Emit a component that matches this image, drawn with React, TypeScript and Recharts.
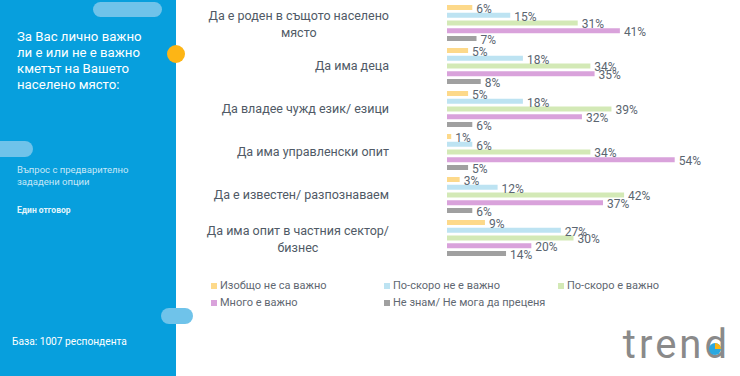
import React from 'react'
import { Bar, BarChart, LabelList, XAxis, YAxis } from 'recharts'

// survey: how important is each trait of the mayor (% of respondents)
const categories = [
  'Да е роден в същото населено\nмясто',
  'Да има деца',
  'Да владее чужд език/ езици',
  'Да има управленски опит',
  'Да е известен/ разпознаваем',
  'Да има опит в частния сектор/\nбизнес',
]
const seriesNames = [
  'Изобщо не са важно',
  'По-скоро не е важно',
  'По-скоро е важно',
  'Много е важно',
  'Не знам/ Не мога да преценя',
]
const notImportant = [6, 5, 5, 1, 3, 9]
const ratherNot = [15, 18, 18, 6, 12, 27]
const ratherYes = [31, 34, 39, 34, 42, 30]
const veryImportant = [41, 35, 32, 54, 37, 20]
const dontKnow = [7, 8, 6, 5, 6, 14]

const COLORS = ['#fdd98a', '#bde3f2', '#d3e9b6', '#d9a2db', '#a0a0a0']
const KEYS = ['s0', 's1', 's2', 's3', 's4']
const BLUE = '#079fdd'
const PILL = '#6fc3ea'
const TEXT = '#505a66'
const FONT = 'Roboto, "Noto Sans", sans-serif'
const TICK_SIZE = 12.5

const data = categories.map((name, i) => ({
  name,
  s0: notImportant[i],
  s1: ratherNot[i],
  s2: ratherYes[i],
  s3: veryImportant[i],
  s4: dontKnow[i],
}))

let ctx: CanvasRenderingContext2D | null = null
function measure(text: string, size: number) {
  if (!ctx) ctx = document.createElement('canvas').getContext('2d')
  if (!ctx) return text.length * size * 0.5
  ctx.font = `${size}px Roboto`
  return ctx.measureText(text).width
}

function CategoryTick(props: any) {
  const { x, y, payload } = props
  const lines: string[] = String(payload.value).split('\n')
  const right = x - 50
  if (lines.length === 1) {
    return (
      <text x={right} y={y} textAnchor="end" dominantBaseline="central" fontSize={TICK_SIZE} fill={TEXT} fontFamily={FONT}>
        {lines[0]}
      </text>
    )
  }
  const w = Math.max(...lines.map((l) => measure(l, TICK_SIZE)))
  const cx = right - w / 2
  return (
    <g>
      {lines.map((l, i) => (
        <text
          key={i}
          x={cx}
          y={y - 7 + i * 17}
          textAnchor="middle"
          dominantBaseline="central"
          fontSize={TICK_SIZE}
          fill={TEXT}
          fontFamily={FONT}
        >
          {l}
        </text>
      ))}
    </g>
  )
}

const pill = (left: number, top: number, w: number, h: number): React.CSSProperties => ({
  position: 'absolute',
  left,
  top,
  width: w,
  height: h,
  borderRadius: h / 2,
  background: PILL,
})

export default function App() {
  return (
    <div style={{ position: 'absolute', left: 0, top: 0, width: 740, height: 376, background: '#fff', overflow: 'hidden', fontFamily: FONT }}>
      {/* left blue panel */}
      <div style={{ position: 'absolute', left: 0, top: 0, width: 176, height: 376, background: BLUE }} />
      <div style={pill(93, 2, 69, 15)} />
      <div style={pill(-16, 141, 49, 16)} />
      <div style={pill(161, 308, 32, 16)} />
      <div style={{ position: 'absolute', left: 167, top: 45, width: 18, height: 18, borderRadius: 9, background: '#fdb515' }} />
      <div style={{ position: 'absolute', left: 17, top: 29, color: '#fff', fontSize: 13.2, lineHeight: '16px' }}>
        За Вас лично важно
        <br />
        ли е или не е важно
        <br />
        кметът на Вашето
        <br />
        населено място:
      </div>
      <div style={{ position: 'absolute', left: 17, top: 164, color: 'rgba(255,255,255,0.78)', fontSize: 9.5, lineHeight: '12px' }}>
        Въпрос с предварително
        <br />
        зададени опции
      </div>
      <div style={{ position: 'absolute', left: 17, top: 205, color: 'rgba(255,255,255,0.9)', fontSize: 8.5, fontWeight: 700 }}>
        Един отговор
      </div>
      <div style={{ position: 'absolute', left: 12, top: 336, color: '#fff', fontSize: 10.2 }}>База: 1007 респондента</div>

      {/* chart */}
      <div style={{ position: 'absolute', left: 0, top: 0 }}>
        <BarChart
          width={740}
          height={262}
          data={data}
          layout="vertical"
          margin={{ top: 1, right: 40, bottom: 3, left: 0 }}
          barSize={5}
          barGap={2.75}
        >
          <XAxis type="number" domain={[0, 60]} hide />
          <YAxis
            type="category"
            dataKey="name"
            width={447}
            axisLine={false}
            tickLine={false}
            tick={<CategoryTick />}
            interval={0}
          />
          {KEYS.map((k, i) => (
            <Bar key={k} dataKey={k} name={seriesNames[i]} fill={COLORS[i]} isAnimationActive={false}>
              <LabelList
                dataKey={k}
                position="right"
                offset={4}
                formatter={(v: any) => `${v}%`}
                style={{ fontSize: 12, fill: '#5b6570', fontFamily: FONT }}
                dy={1}
              />
            </Bar>
          ))}
        </BarChart>
      </div>

      {/* legend */}
      <div
        style={{
          position: 'absolute',
          left: 211,
          top: 279,
          display: 'grid',
          gridTemplateColumns: '173px 174px 160px',
          rowGap: 4,
          fontSize: 11,
          color: '#5f6872',
          lineHeight: '13px',
        }}
      >
        {seriesNames.map((n, i) => (
          <div key={n} style={{ display: 'flex', alignItems: 'center' }}>
            <span style={{ display: 'inline-block', width: 6, height: 6, background: COLORS[i], marginRight: 3 }} />
            {n}
          </div>
        ))}
      </div>

      {/* logo */}
      <svg style={{ position: 'absolute', left: 600, top: 310 }} width={140} height={66}>
        <text x={130} y={48} textAnchor="end" fontSize={40} fontWeight={400} fill="#8a8a8a" letterSpacing={3} fontFamily={FONT}>
          trend
        </text>
        <circle cx={115} cy={39} r={6} fill="#2aa8e0" />
        <path d="M115 39 L115 33 A6 6 0 0 1 121 39 Z" fill="#fdb515" />
      </svg>
    </div>
  )
}
